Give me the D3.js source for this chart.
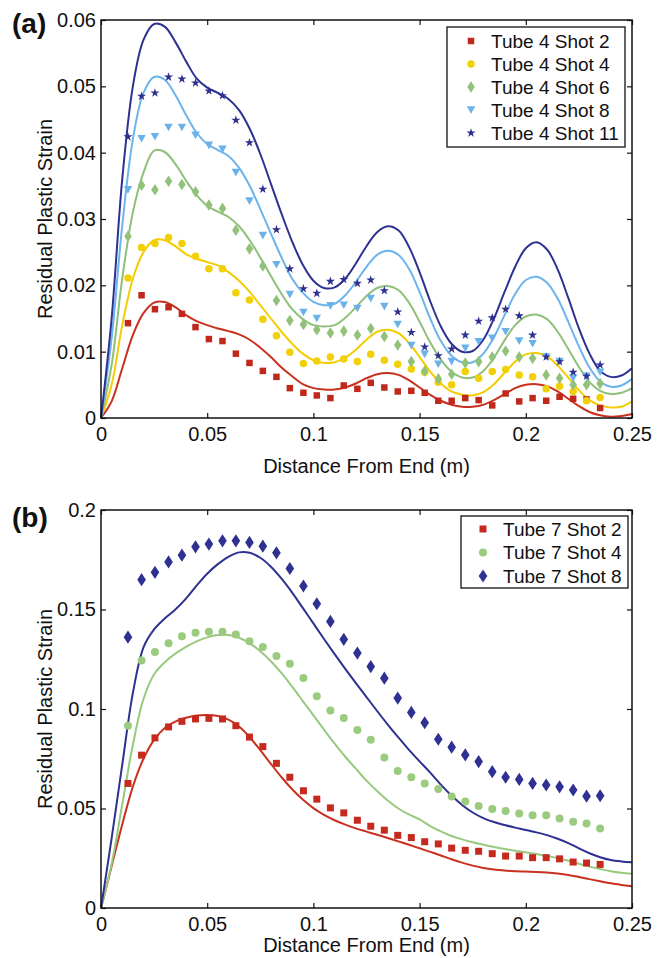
<!DOCTYPE html>
<html><head><meta charset="utf-8">
<script src="https://cdn.jsdelivr.net/npm/d3@7"></script>
<style>
body{margin:0;background:#fff;}
svg{display:block;}
text{font-family:"Liberation Sans",Arial,Helvetica,sans-serif;fill:#111;}
</style>
</head><body><svg id="c" width="663" height="958"></svg>
<script>
// ---------- DATA ----------
const pointX = [0.0127,0.0191,0.0254,0.0318,0.0381,0.0445,0.0508,0.0572,0.0635,0.0699,0.0762,0.0826,0.0889,0.0953,0.1016,0.1080,0.1143,0.1207,0.1270,0.1334,0.1397,0.1461,0.1524,0.1588,0.1651,0.1715,0.1778,0.1842,0.1905,0.1969,0.2032,0.2096,0.2159,0.2223,0.2286,0.2350];
const lineX = [0,0.005,0.01,0.015,0.02,0.025,0.03,0.035,0.04,0.045,0.05,0.055,0.06,0.065,0.07,0.075,0.08,0.085,0.09,0.095,0.1,0.105,0.11,0.115,0.12,0.125,0.13,0.135,0.14,0.145,0.15,0.155,0.16,0.165,0.17,0.175,0.18,0.185,0.19,0.195,0.2,0.205,0.21,0.215,0.22,0.225,0.23,0.235,0.24,0.245,0.25];

// Panel (a) measured points
const t4s2 = [0.0143,0.0185,0.0164,0.0167,0.0157,0.0137,0.0119,0.0116,0.0097,0.0083,0.0071,0.0062,0.0045,0.0038,0.0034,0.0030,0.0049,0.0044,0.0053,0.0046,0.0040,0.0041,0.0038,0.0026,0.0026,0.0030,0.0027,0.0019,0.0037,0.0025,0.0030,0.0026,0.0032,0.0029,0.0028,0.0015];
const t4s4 = [0.0211,0.0257,0.0263,0.0272,0.0263,0.0244,0.0225,0.0225,0.0189,0.0178,0.0149,0.0124,0.0099,0.0082,0.0086,0.0092,0.0089,0.0085,0.0096,0.0087,0.0081,0.0074,0.0069,0.0054,0.0050,0.0070,0.0060,0.0070,0.0073,0.0065,0.0062,0.0044,0.0048,0.0040,0.0026,0.0031];
const t4s6 = [0.0274,0.0351,0.0344,0.0357,0.0352,0.0341,0.0321,0.0316,0.0283,0.0255,0.0229,0.0177,0.0147,0.0141,0.0133,0.0128,0.0131,0.0125,0.0135,0.0123,0.0110,0.0085,0.0071,0.0059,0.0066,0.0083,0.0085,0.0092,0.0101,0.0092,0.0090,0.0065,0.0060,0.0050,0.0050,0.0052];
const t4s8 = [0.0344,0.0421,0.0424,0.0438,0.0438,0.0426,0.0411,0.0405,0.0370,0.0327,0.0275,0.0231,0.0186,0.0159,0.0150,0.0169,0.0170,0.0165,0.0180,0.0168,0.0141,0.0109,0.0096,0.0081,0.0085,0.0105,0.0115,0.0120,0.0130,0.0116,0.0112,0.0092,0.0085,0.0060,0.0063,0.0069];
const t4s11 = [0.0424,0.0485,0.0490,0.0514,0.0511,0.0505,0.0493,0.0486,0.0449,0.0415,0.0345,0.0284,0.0225,0.0195,0.0188,0.0206,0.0209,0.0203,0.0208,0.0192,0.0160,0.0129,0.0107,0.0094,0.0104,0.0125,0.0146,0.0151,0.0164,0.0154,0.0125,0.0092,0.0085,0.0069,0.0063,0.0080];

// Panel (a) model curves
const c4s2 = [0,0.0025,0.0075,0.0125,0.0158,0.0174,0.0175,0.0167,0.0155,0.0146,0.0140,0.0135,0.0131,0.0126,0.0118,0.0106,0.0092,0.0076,0.0063,0.0051,0.0045,0.0043,0.0043,0.0046,0.0052,0.0060,0.0066,0.0068,0.0065,0.0057,0.0046,0.0035,0.0026,0.0020,0.0017,0.0017,0.0020,0.0027,0.0036,0.0045,0.0050,0.0051,0.0048,0.0040,0.0029,0.0018,0.0009,0.0004,0.0002,0.0003,0.0006];
const c4s4 = [0,0.005,0.014,0.021,0.025,0.0268,0.0268,0.0259,0.0247,0.0240,0.0235,0.0230,0.0220,0.0207,0.0190,0.0170,0.0150,0.0130,0.0112,0.0097,0.0087,0.0083,0.0084,0.0091,0.0103,0.0118,0.0130,0.0133,0.0128,0.0113,0.0092,0.0070,0.0052,0.0040,0.0035,0.0034,0.0039,0.0051,0.0068,0.0085,0.0096,0.0098,0.0093,0.0079,0.0061,0.0042,0.0027,0.0019,0.0016,0.0017,0.0025];
const c4s6 = [0,0.008,0.021,0.031,0.037,0.0403,0.0401,0.0383,0.0358,0.0336,0.0320,0.0311,0.0303,0.0289,0.0268,0.0242,0.0214,0.0187,0.0164,0.0149,0.0140,0.0138,0.0140,0.0151,0.0167,0.0184,0.0196,0.0199,0.0193,0.0174,0.0145,0.0114,0.0088,0.0070,0.0061,0.0061,0.0071,0.0091,0.0117,0.0140,0.0153,0.0156,0.0149,0.0130,0.0104,0.0077,0.0054,0.0041,0.0036,0.0038,0.0045];
const c4s8 = [0,0.012,0.029,0.042,0.049,0.0514,0.0510,0.0487,0.0457,0.0430,0.0413,0.0404,0.0395,0.0377,0.0350,0.0315,0.0278,0.0242,0.0210,0.0189,0.0175,0.0170,0.0172,0.0185,0.0205,0.0228,0.0246,0.0252,0.0246,0.0225,0.0190,0.0150,0.0116,0.0094,0.0084,0.0084,0.0097,0.0122,0.0155,0.0187,0.0208,0.0213,0.0204,0.0180,0.0145,0.0108,0.0076,0.0055,0.0047,0.0049,0.0059];
const c4s11 = [0,0.015,0.036,0.050,0.057,0.0594,0.0590,0.0567,0.0538,0.0512,0.0498,0.0490,0.0481,0.0464,0.0436,0.0398,0.0353,0.0308,0.0266,0.0231,0.0207,0.0196,0.0197,0.0210,0.0233,0.0259,0.0280,0.0289,0.0283,0.0258,0.0220,0.0176,0.0138,0.0112,0.0100,0.0101,0.0118,0.0150,0.0190,0.0228,0.0256,0.0265,0.0254,0.0224,0.0181,0.0135,0.0097,0.0071,0.0062,0.0064,0.0075];

// Panel (b) measured points
const t7s2 = [0.0626,0.0768,0.0855,0.0910,0.0938,0.0950,0.0953,0.0950,0.0916,0.0859,0.0811,0.0727,0.0657,0.0589,0.0547,0.0503,0.0478,0.0441,0.0411,0.0391,0.0365,0.0354,0.0333,0.0322,0.0301,0.0290,0.0285,0.0273,0.0261,0.0261,0.0253,0.0253,0.0247,0.0231,0.0226,0.0219];
const t7s4 = [0.0916,0.1244,0.1287,0.1331,0.1365,0.1383,0.1388,0.1388,0.1375,0.1341,0.1311,0.1266,0.1227,0.1156,0.1064,0.0992,0.0955,0.0894,0.0845,0.0756,0.0688,0.0657,0.0626,0.0598,0.0560,0.0535,0.0512,0.0497,0.0488,0.0475,0.0466,0.0466,0.0450,0.0433,0.0424,0.0399];
const t7s8 = [0.1361,0.1650,0.1687,0.1739,0.1773,0.1815,0.1829,0.1845,0.1845,0.1837,0.1818,0.1785,0.1706,0.1618,0.1529,0.1440,0.1350,0.1281,0.1213,0.1155,0.1055,0.0983,0.0931,0.0848,0.0808,0.0769,0.0736,0.0685,0.0657,0.0646,0.0626,0.0618,0.0609,0.0593,0.0562,0.0564];

// Panel (b) model curves
const c7s2 = [0,0.021,0.042,0.061,0.075,0.0845,0.0905,0.0937,0.0956,0.0967,0.0970,0.0965,0.0947,0.0912,0.0858,0.0793,0.0724,0.0657,0.0597,0.0545,0.0502,0.0468,0.0441,0.0419,0.0400,0.0384,0.0368,0.0352,0.0335,0.0318,0.0300,0.0282,0.0264,0.0245,0.0228,0.0213,0.0201,0.0193,0.0188,0.0185,0.0183,0.0181,0.0178,0.0173,0.0166,0.0156,0.0145,0.0134,0.0124,0.0116,0.0109];
const c7s4 = [0,0.022,0.052,0.082,0.105,0.1175,0.1235,0.1278,0.1312,0.1340,0.1360,0.1372,0.1372,0.1358,0.1330,0.1290,0.1240,0.1180,0.1112,0.1040,0.0968,0.0896,0.0826,0.0760,0.0700,0.0640,0.0588,0.0540,0.0500,0.0470,0.0445,0.0412,0.0385,0.0362,0.0345,0.0330,0.0318,0.0307,0.0297,0.0288,0.0280,0.0271,0.0262,0.0250,0.0237,0.0222,0.0208,0.0196,0.0185,0.0177,0.0172];
const c7s8 = [0,0.035,0.072,0.108,0.131,0.140,0.1455,0.150,0.1555,0.162,0.168,0.1728,0.1765,0.1787,0.1785,0.1760,0.1715,0.1655,0.1585,0.1508,0.1430,0.1352,0.1276,0.1202,0.1130,0.1060,0.0990,0.0922,0.0857,0.0795,0.0737,0.0680,0.0620,0.0565,0.0518,0.0480,0.0452,0.0432,0.0417,0.0404,0.0392,0.0380,0.0366,0.0348,0.0326,0.0300,0.0275,0.0255,0.0241,0.0234,0.0230];

// Tick values and labels
const xTicks = [0,0.05,0.1,0.15,0.2,0.25];
const xTickLabels = ["0","0.05","0.1","0.15","0.2","0.25"];
const yTicksA = [0,0.01,0.02,0.03,0.04,0.05,0.06];
const yTickLabelsA = ["0","0.01","0.02","0.03","0.04","0.05","0.06"];
const yTicksB = [0,0.05,0.1,0.15,0.2];
const yTickLabelsB = ["0","0.05","0.1","0.15","0.2"];

const seriesNamesA = ["Tube 4 Shot 2","Tube 4 Shot 4","Tube 4 Shot 6","Tube 4 Shot 8","Tube 4 Shot 11"];
const seriesNamesB = ["Tube 7 Shot 2","Tube 7 Shot 4","Tube 7 Shot 8"];
const xLabel = "Distance From End (m)";
const yLabel = "Residual Plastic Strain";

// ---------- DRAW ----------
const svg = d3.select("#c");
const FONT = 19;
const TICKFONT = 20;
const LABELFONT = 20;

const markerPath = {
  square: s => { const h=s/2; return `M${-h},${-h}H${h}V${h}H${-h}Z`; },
  circle: s => { const r=s/2; return `M${r},0A${r},${r} 0 1,1 ${-r},0A${r},${r} 0 1,1 ${r},0Z`; },
  diamond: s => { const w=s*0.36, h=s*0.55; return `M0,${-h}L${w},0L0,${h}L${-w},0Z`; },
  tridown: s => { const w=s/2, h=s*0.45; return `M${-w},${-h}L${w},${-h}L0,${h}Z`; },
  star: s => d3.symbol(d3.symbolStar, s*s*0.26)()
};

function panel(opts){
  const {left,right,top,bottom,yMax,yTicks,yTickLabels,series,legend,tag} = opts;
  const x = d3.scaleLinear().domain([0,0.25]).range([left,right]);
  const y = d3.scaleLinear().domain([0,yMax]).range([bottom,top]);
  const g = svg.append("g");

  const line = d3.line().x((d,i)=>x(lineX[i])).y(d=>y(d)).curve(d3.curveCatmullRom.alpha(0.5));
  series.forEach(s=>{
    g.append("path").attr("d",line(s.curve)).attr("fill","none")
      .attr("stroke",s.lineColor).attr("stroke-width",2);
  });
  series.forEach(s=>{
    g.append("g").selectAll("path").data(s.points).join("path")
      .attr("d",markerPath[s.marker](s.size))
      .attr("transform",(d,i)=>`translate(${x(pointX[i])},${y(d)})`)
      .attr("fill",s.color).attr("stroke","none");
  });

  const fmtX = (d,i)=>xTickLabels[i];
  const fmtY = (d,i)=>yTickLabels[i];
  const axB = g.append("g").attr("transform",`translate(0,${bottom})`)
    .call(d3.axisBottom(x).tickValues(xTicks).tickFormat(fmtX).tickSizeInner(-5).tickSizeOuter(0).tickPadding(9));
  const axT = g.append("g").attr("transform",`translate(0,${top})`)
    .call(d3.axisTop(x).tickValues(xTicks).tickFormat("").tickSizeInner(-5).tickSizeOuter(0));
  const axL = g.append("g").attr("transform",`translate(${left},0)`)
    .call(d3.axisLeft(y).tickValues(yTicks).tickFormat(fmtY).tickSizeInner(-5).tickSizeOuter(0).tickPadding(5));
  const axR = g.append("g").attr("transform",`translate(${right},0)`)
    .call(d3.axisRight(y).tickValues(yTicks).tickFormat("").tickSizeInner(-5).tickSizeOuter(0));
  [axB,axT,axL,axR].forEach(a=>{
    a.select(".domain").remove();
    a.selectAll("line").attr("stroke","#111").attr("stroke-width",1.2);
    a.selectAll("text").attr("font-size",TICKFONT).attr("fill","#111")
      .attr("font-family","'Liberation Sans',Arial,sans-serif");
  });
  g.append("rect").attr("x",left).attr("y",top).attr("width",right-left).attr("height",bottom-top)
    .attr("fill","none").attr("stroke","#111").attr("stroke-width",1.5);

  g.append("text").attr("x",(left+right)/2).attr("y",opts.xLabelY).attr("text-anchor","middle")
    .attr("font-size",LABELFONT).text(xLabel);
  g.append("text").attr("transform",`translate(52,${(top+bottom)/2}) rotate(-90)`)
    .attr("text-anchor","middle").attr("font-size",LABELFONT).text(yLabel);

  g.append("text").attr("x",12).attr("y",opts.tagY).attr("font-size",28).attr("font-weight","bold").text(tag);

  const L = legend;
  const lg = g.append("g");
  lg.append("rect").attr("x",L.x).attr("y",L.y).attr("width",L.w).attr("height",L.h)
    .attr("fill","#fff").attr("stroke","#111").attr("stroke-width",1.3);
  series.forEach((s,i)=>{
    const cy = L.first + i*L.step;
    lg.append("path").attr("d",markerPath[s.marker](s.size)).attr("transform",`translate(${L.mx},${cy})`).attr("fill",s.color);
    lg.append("text").attr("x",L.tx).attr("y",cy+6.5).attr("font-size",FONT).text(s.name);
  });
}

panel({
  left:101,right:632,top:20,bottom:418,yMax:0.06,yTicks:yTicksA,yTickLabels:yTickLabelsA,
  xLabelY:473,tagY:33,tag:"(a)",
  legend:{x:447,y:27,w:178,h:120,first:41,step:23,mx:471,tx:491},
  series:[
    {name:seriesNamesA[0],points:t4s2,curve:c4s2,color:"#c0281c",lineColor:"#c8301f",marker:"square",size:6.5},
    {name:seriesNamesA[1],points:t4s4,curve:c4s4,color:"#f2d008",lineColor:"#f4cc00",marker:"circle",size:7.5},
    {name:seriesNamesA[2],points:t4s6,curve:c4s6,color:"#92c27a",lineColor:"#8fc07a",marker:"diamond",size:10.5},
    {name:seriesNamesA[3],points:t4s8,curve:c4s8,color:"#6ab2ea",lineColor:"#6cb4ec",marker:"tridown",size:8.5},
    {name:seriesNamesA[4],points:t4s11,curve:c4s11,color:"#2e3090",lineColor:"#2e3192",marker:"star",size:10}
  ]
});

panel({
  left:101,right:632,top:510,bottom:908,yMax:0.2,yTicks:yTicksB,yTickLabels:yTickLabelsB,
  xLabelY:952,tagY:527,tag:"(b)",
  legend:{x:461,y:516,w:167,h:72,first:529,step:23.5,mx:483,tx:503},
  series:[
    {name:seriesNamesB[0],points:t7s2,curve:c7s2,color:"#c62a1f",lineColor:"#c8301f",marker:"square",size:7},
    {name:seriesNamesB[1],points:t7s4,curve:c7s4,color:"#9acb7f",lineColor:"#98c97e",marker:"circle",size:8},
    {name:seriesNamesB[2],points:t7s8,curve:c7s8,color:"#2e3192",lineColor:"#2e3192",marker:"diamond",size:12}
  ]
});
</script></body></html>
